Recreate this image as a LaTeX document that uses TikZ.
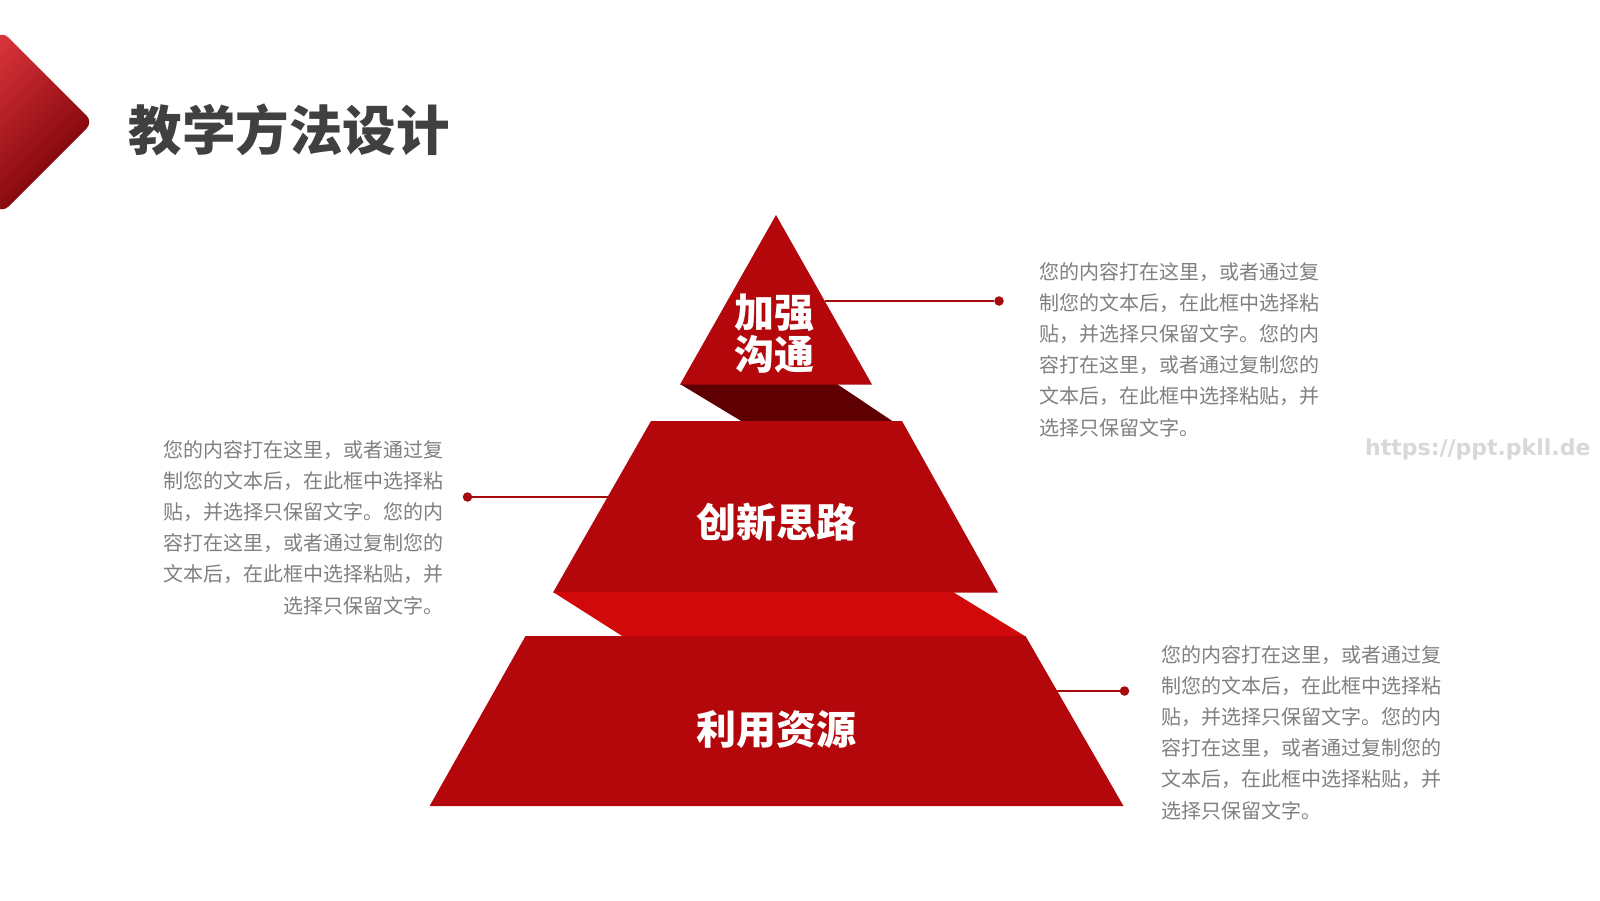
\documentclass[tikz,border=0pt]{standalone}
\usepackage{fontspec}
\setmainfont{Noto Sans CJK SC}
\newfontfamily\wmfont{DejaVu Sans}
\definecolor{trapred}{RGB}{179,7,11}
\definecolor{darkband}{RGB}{94,0,2}
\definecolor{brightband}{RGB}{209,9,11}
\definecolor{linered}{RGB}{165,10,12}
\definecolor{bodygray}{RGB}{128,128,128}
\definecolor{titlegray}{RGB}{64,64,64}
\definecolor{wmgray}{RGB}{216,216,216}
\definecolor{diamlight}{RGB}{238,62,70}
\definecolor{diammid}{RGB}{196,6,14}
\definecolor{diamdark}{RGB}{118,0,4}
\begin{document}
\begin{tikzpicture}[x=1pt,y=-1pt,
  lbl/.style={text=white,inner sep=0pt,font=\bfseries\fontsize{40pt}{42pt}\selectfont},
  body/.style={text=bodygray,inner sep=0pt,font=\fontsize{20pt}{31.2pt}\selectfont},
  dotnode/.style={circle,fill=linered,inner sep=0pt,minimum size=9.5pt},
  conn/.style={draw=linered,line width=1.3pt}]
\clip (0,0) rectangle (1600,900);
\fill[white] (0,0) rectangle (1600,900);
% corner diamond
\shade[top color=diamlight,middle color=diammid,bottom color=diamdark,shading angle=45,rounded corners=9pt]
  (93,122) -- (2,31) -- (-89,122) -- (2,213) -- cycle;
% title
\node[anchor=west,inner sep=0pt,text=titlegray,font=\bfseries\fontsize{53.5pt}{60pt}\selectfont] (title) at (128.5,130) {教学方法设计};
% pyramid
\fill[darkband] (680,384) -- (837,384) -- (893,421.5) -- (742,421.5) -- cycle;
\fill[trapred] (776,215) -- (872,384.5) -- (680,384.5) -- cycle;
\fill[trapred] (651,421) -- (902,421) -- (998,592.5) -- (553,592.5) -- cycle;
\fill[brightband] (553,592) -- (953,592) -- (1025.5,636.5) -- (623,636.5) -- cycle;
\fill[trapred] (525.5,636) -- (1025.5,636) -- (1123.5,806) -- (429.6,806) -- cycle;
% labels
\node[lbl,align=center] (l1) at (774,334) {加强\\沟通};
\node[lbl] (l2) at (776,522) {创新思路};
\node[lbl] (l3) at (776,729) {利用资源};
% connectors
\node[dotnode] (d1) at (999,301) {};
\coordinate (e1) at (825,301);
\draw[conn] (e1) -- (d1);
\node[dotnode] (d2) at (467.5,497) {};
\coordinate (e2) at (608,497);
\draw[conn] (d2) -- (e2);
\node[dotnode] (d3) at (1124.5,691) {};
\coordinate (e3) at (1057,691);
\draw[conn] (e3) -- (d3);
% text blocks
\node[body,anchor=north west,align=left] (b1) at (1039,262) {您的内容打在这里，或者通过复\\制您的文本后，在此框中选择粘\\贴，并选择只保留文字。您的内\\容打在这里，或者通过复制您的\\文本后，在此框中选择粘贴，并\\选择只保留文字。};
\node[body,anchor=north east,align=right] (b2) at (444,440) {您的内容打在这里，或者通过复\\制您的文本后，在此框中选择粘\\贴，并选择只保留文字。您的内\\容打在这里，或者通过复制您的\\文本后，在此框中选择粘贴，并\\选择只保留文字。};
\node[body,anchor=north west,align=left] (b3) at (1161,645) {您的内容打在这里，或者通过复\\制您的文本后，在此框中选择粘\\贴，并选择只保留文字。您的内\\容打在这里，或者通过复制您的\\文本后，在此框中选择粘贴，并\\选择只保留文字。};
% watermark
\node[anchor=west,inner sep=0pt,text=wmgray,font=\wmfont\bfseries\fontsize{22pt}{24pt}\selectfont] (wm) at (1365,449) {https://ppt.pkll.de};
\end{tikzpicture}
\end{document}
